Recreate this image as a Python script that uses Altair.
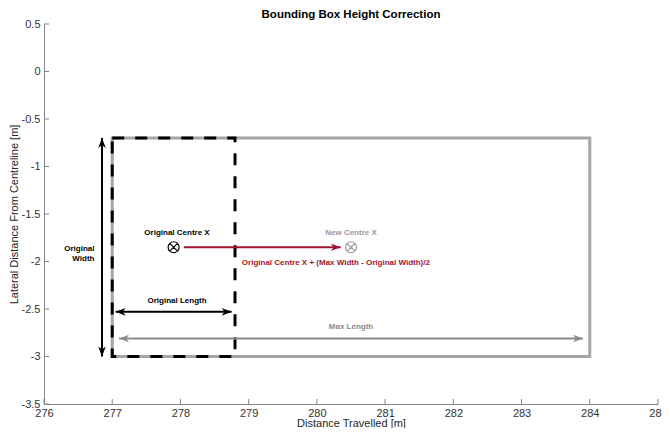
import math
import altair as alt
import pandas as pd

# ---------------- data ----------------
x_ticks = [276, 277, 278, 279, 280, 281, 282, 283, 284, 285]
y_ticks = [0.5, 0.0, -0.5, -1.0, -1.5, -2.0, -2.5, -3.0, -3.5]

# bounding boxes
box_names = ["Max", "Original"]
box_x1 = [277.0, 277.0]
box_x2 = [284.0, 278.8]
box_y1 = [-0.7, -0.7]
box_y2 = [-3.0, -3.0]

# arrows (start -> end)
arrow_names = ["Original Width", "Original Length", "Max Length", "Centre Shift"]
arrow_x1 = [276.85, 277.05, 277.1, 278.05]
arrow_y1 = [-3.0, -2.53, -2.81, -1.85]
arrow_x2 = [276.85, 278.75, 283.9, 280.35]
arrow_y2 = [-0.7, -2.53, -2.81, -1.85]
arrow_double = [True, True, True, False]

# centre markers
centre_names = ["Original", "New"]
centre_x = [277.9, 280.5]
centre_y = [-1.85, -1.85]

# annotation labels
label_texts = [
    "Original Centre X",
    "New Centre X",
    "Original Centre X + (Max Width - Original Width)/2",
    "Original\nWidth",
    "Original Length",
    "Max Length",
]
label_x = [277.95, 280.5, 278.9, 276.74, 277.95, 280.5]
label_y = [-1.70, -1.70, -2.02, -1.87, -2.42, -2.69]

# ---------------- styles ----------------
BLACK = "#000000"
GREY_BOX = "#a6a6a6"
GREY_ARROW = "#8a8a8a"
GREY_TEXT = "#9a9a9a"
RED = "#a2142f"
FONT = "Liberation Sans"

arrow_color = {"Original Width": BLACK, "Original Length": BLACK,
               "Max Length": GREY_ARROW, "Centre Shift": RED}
centre_color = {"Original": BLACK, "New": GREY_TEXT}
label_color = {
    "Original Centre X": BLACK,
    "New Centre X": GREY_TEXT,
    "Original Centre X + (Max Width - Original Width)/2": RED,
    "Original\nWidth": BLACK,
    "Original Length": BLACK,
    "Max Length": GREY_ARROW,
}
label_align = {
    "Original Centre X": "center",
    "New Centre X": "center",
    "Original Centre X + (Max Width - Original Width)/2": "left",
    "Original\nWidth": "right",
    "Original Length": "center",
    "Max Length": "center",
}

W, H = 614, 380
xs = alt.Scale(domain=[276, 285], nice=False, zero=False)
ys = alt.Scale(domain=[-3.5, 0.5], nice=False, zero=False)

# ---------------- tables ----------------
boxes = pd.DataFrame({"name": box_names, "x1": box_x1, "x2": box_x2,
                      "y1": box_y1, "y2": box_y2})
arrows = pd.DataFrame({"name": arrow_names, "x1": arrow_x1, "y1": arrow_y1,
                       "x2": arrow_x2, "y2": arrow_y2})
arrows["color"] = arrows["name"].map(arrow_color)

heads = []
for n, a, b, c, d, dbl in zip(arrow_names, arrow_x1, arrow_y1, arrow_x2, arrow_y2, arrow_double):
    ang = math.degrees(math.atan2(-(d - b), c - a)) % 360
    heads.append({"x": c, "y": d, "angle": ang, "color": arrow_color[n]})
    if dbl:
        heads.append({"x": a, "y": b, "angle": (ang + 180) % 360, "color": arrow_color[n]})
heads = pd.DataFrame(heads)

centres = pd.DataFrame({"name": centre_names, "x": centre_x, "y": centre_y})
centres["color"] = centres["name"].map(centre_color)

labels = pd.DataFrame({"text": label_texts, "x": label_x, "y": label_y})
labels["color"] = labels["text"].map(label_color)
labels["align"] = labels["text"].map(label_align)

xt = pd.DataFrame({"v": x_ticks})
yt = pd.DataFrame({"v": y_ticks})

# ---------------- layers ----------------
base_x = alt.X("x1:Q", scale=xs,
               axis=alt.Axis(values=x_ticks, title="Distance Travelled [m]",
                             labelExpr="toString(datum.value)", labelFlush=False,
                             labelPadding=3, titleY=13.5))
base_y = alt.Y("y1:Q", scale=ys,
               axis=alt.Axis(values=y_ticks, title="Lateral Distance From Centreline [m]",
                             labelExpr="toString(datum.value)", labelFlush=False,
                             labelPadding=4, titleX=-25))

max_box = alt.Chart(boxes[boxes["name"] == "Max"]).mark_rect(
    fillOpacity=0, stroke=GREY_BOX, strokeWidth=3
).encode(x=base_x, x2="x2:Q", y=base_y, y2="y2:Q")

orig_box = alt.Chart(boxes[boxes["name"] == "Original"]).mark_rect(
    fillOpacity=0, stroke=BLACK, strokeWidth=3, strokeDash=[12, 11]
).encode(x=alt.X("x1:Q", scale=xs), x2="x2:Q", y=alt.Y("y1:Q", scale=ys), y2="y2:Q")

arrow_lines = alt.Chart(arrows).mark_rule(strokeWidth=2).encode(
    x=alt.X("x1:Q", scale=xs), x2="x2:Q",
    y=alt.Y("y1:Q", scale=ys), y2="y2:Q",
    color=alt.Color("color:N", scale=None),
)

ARROW_SHAPE = "M0,0 L-1,-0.38 L-0.7,0 L-1,0.38 Z"
arrow_heads = alt.Chart(heads).mark_point(
    shape=ARROW_SHAPE, filled=True, size=400, opacity=1, strokeWidth=0
).encode(
    x=alt.X("x:Q", scale=xs), y=alt.Y("y:Q", scale=ys),
    angle=alt.Angle("angle:Q", scale=None),
    color=alt.Color("color:N", scale=None),
)

OTIMES = ("M1,0 A1,1 0 1,1 -1,0 A1,1 0 1,1 1,0 Z "
          "M-0.7071,-0.7071 L0.7071,0.7071 M-0.7071,0.7071 L0.7071,-0.7071")
centre_marks = alt.Chart(centres).mark_point(
    shape=OTIMES, filled=False, size=121, strokeWidth=1.2, opacity=1
).encode(
    x=alt.X("x:Q", scale=xs), y=alt.Y("y:Q", scale=ys),
    color=alt.Color("color:N", scale=None),
)

text_layers = []
for al in ["center", "left", "right"]:
    sub = labels[labels["align"] == al]
    text_layers.append(
        alt.Chart(sub).mark_text(
            align=al, baseline="middle", font=FONT, fontSize=8,
            fontWeight="bold", lineBreak="\n", lineHeight=10
        ).encode(
            x=alt.X("x:Q", scale=xs), y=alt.Y("y:Q", scale=ys),
            text="text:N", color=alt.Color("color:N", scale=None),
        )
    )

AXIS_GREY = "#858585"
x_tick_marks = alt.Chart(xt).mark_rule(color=AXIS_GREY, strokeWidth=1).encode(
    x=alt.X("v:Q", scale=xs), y=alt.value(H), y2=alt.value(H - 5))
y_tick_marks = alt.Chart(yt).mark_rule(color=AXIS_GREY, strokeWidth=1).encode(
    y=alt.Y("v:Q", scale=ys), x=alt.value(0), x2=alt.value(5))

chart = alt.layer(
    max_box, orig_box, arrow_lines, arrow_heads, centre_marks,
    *text_layers, x_tick_marks, y_tick_marks
).properties(
    width=W, height=H,
    title=alt.TitleParams("Bounding Box Height Correction", anchor="middle",
                          fontSize=11.5, fontWeight="bold", font=FONT,
                          color=BLACK, offset=0, dy=2),
    autosize=alt.AutoSizeParams(type="none"),
    padding={"left": 36, "top": 16, "right": 4, "bottom": 24},
).configure_axis(
    grid=False, ticks=False, tickSize=0, domainColor=AXIS_GREY, domainWidth=1,
    labelColor="#333333", labelFont=FONT, labelFontSize=11,
    titleFont=FONT, titleFontSize=11, titleFontWeight="normal",
    titleColor="#262626",
).configure_view(stroke="transparent")

chart.save("out.html", embed_options={"renderer": "svg", "actions": False})
